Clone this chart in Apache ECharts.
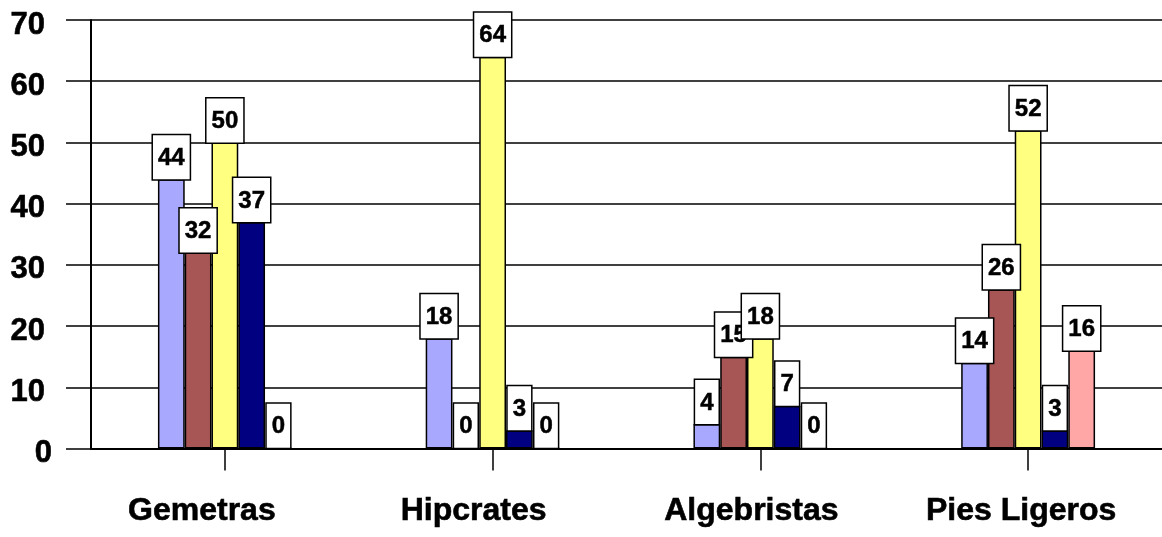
<!DOCTYPE html>
<html>
<head>
<meta charset="utf-8">
<script src="https://cdn.jsdelivr.net/npm/echarts@6/dist/echarts.min.js"></script>
<style>
  html, body { margin: 0; padding: 0; background: #fff; }
  #chart { width: 1162px; height: 537px; }
</style>
</head>
<body>
<div id="chart"></div>
<script>
// Categories and the five value series (one bar per series in each group)
const categories = ['Gemetras', 'Hipcrates', 'Algebristas', 'Pies Ligeros'];
const serie1 = [44, 18, 4, 14];
const serie2 = [32, 0, 15, 26];
const serie3 = [50, 64, 18, 52];
const serie4 = [37, 3, 7, 3];
const serie5 = [0, 0, 0, 16];
const yMin = 0, yMax = 70, yStep = 10;

const FONT = '"Liberation Sans", Arial, sans-serif';
const colors = ['#A8A8FF', '#A85555', '#FFFF80', '#000080', '#FFA6A6'];
const seriesValues = [serie1, serie2, serie3, serie4, serie5];

// Per-category horizontal nudge of the axis labels (right padding shifts them left)
const labelNudge = [46, 38, 18, 14];

const chart = echarts.init(document.getElementById('chart'), null, { renderer: 'canvas' });

const boldText = {
  fontFamily: FONT, fontWeight: 'bold', color: '#000',
  textBorderColor: '#000', textBorderWidth: 0.6
};

const xRich = {};
labelNudge.forEach((p, i) => {
  xRich['c' + i] = Object.assign({ fontSize: 32, padding: [0, p, 0, 0] }, boldText);
});

// Value-axis labels sit a little below their gridline; the zero label sits closer to the axis
const yRich = {
  n: Object.assign({ fontSize: 31, padding: [10, 7, 0, 0] }, boldText),
  z: Object.assign({ fontSize: 31, padding: [10, 0, 0, 0] }, boldText)
};

chart.setOption({
  animation: false,
  backgroundColor: '#fff',
  grid: { left: 91, right: 0, top: 20, bottom: 88.5, containLabel: false },
  xAxis: {
    type: 'category',
    data: categories,
    axisLine: { show: true, lineStyle: { color: '#000', width: 2 } },
    axisTick: { show: true, alignWithLabel: true, length: 22, lineStyle: { color: '#000', width: 1.5 } },
    axisLabel: {
      margin: 47,
      interval: 0,
      formatter: (v, i) => '{c' + i + '|' + v + '}',
      rich: xRich
    },
    splitLine: { show: false }
  },
  yAxis: {
    type: 'value',
    min: yMin, max: yMax, interval: yStep,
    axisLine: { show: true, lineStyle: { color: '#000', width: 2 } },
    axisTick: { show: true, length: 25, lineStyle: { color: '#000', width: 1.5 } },
    axisLabel: {
      margin: 39,
      formatter: v => (v === 0 ? '{z|' + v + '}' : '{n|' + v + '}'),
      rich: yRich
    },
    splitLine: { show: true, lineStyle: { color: '#000', width: 1.5 } }
  },
  series: seriesValues.map((vals, i) => ({
    type: 'bar',
    data: vals,
    barGap: '0%',
    barCategoryGap: '50%',
    itemStyle: { color: colors[i], borderColor: '#000', borderWidth: 1.5 },
    label: {
      show: true,
      position: 'top',
      distance: 0,
      color: '#000',
      fontFamily: FONT,
      fontWeight: 'bold',
      fontSize: 24,
      lineHeight: 24,
      textBorderColor: '#000',
      textBorderWidth: 0.5,
      backgroundColor: '#fff',
      borderColor: '#000',
      borderWidth: 1.5,
      padding: [11, 5, 9, 5]
    }
  }))
});
</script>
</body>
</html>
